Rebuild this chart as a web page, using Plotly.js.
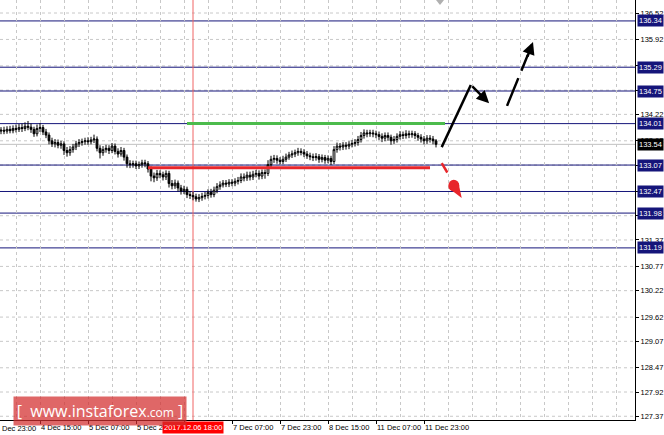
<!DOCTYPE html>
<html>
<head>
<meta charset="utf-8">
<script src="https://cdn.plot.ly/plotly-3.0.1.min.js"></script>
<style>html,body{margin:0;padding:0;background:#fff;}#chart{width:664px;height:435px;}</style>
</head>
<body>
<div id="chart"></div>
<script>
// ---- data (H1 bars, index = hours since 3 Dec 23:00, weekend removed) ----
var firstBar = 3;
var opens = [133.84,133.86,133.84,133.88,133.85,133.90,133.88,133.92,133.90,133.95,133.93,133.88,133.78,133.90,133.92,133.82,133.75,133.62,133.55,133.58,
133.52,133.55,133.40,133.35,133.42,133.48,133.55,133.58,133.60,133.62,133.60,133.64,133.66,133.45,133.35,133.42,133.45,133.40,133.50,133.38,
133.32,133.40,133.25,133.10,133.08,133.10,133.05,133.08,133.12,133.10,132.98,132.82,132.78,132.88,132.85,132.80,132.88,132.65,132.60,132.66,
132.55,132.48,132.52,132.40,132.38,132.35,132.30,132.33,132.36,132.38,132.45,132.40,132.50,132.58,132.62,132.66,132.64,132.68,132.66,132.70,
132.72,132.80,132.78,132.84,132.80,132.86,132.88,132.82,132.90,132.88,133.08,133.20,133.22,133.18,133.15,133.20,133.25,133.30,133.32,133.35,
133.38,133.36,133.32,133.28,133.26,133.24,133.26,133.20,133.24,133.18,133.22,133.15,133.42,133.50,133.48,133.52,133.50,133.54,133.56,133.58,
133.65,133.74,133.80,133.78,133.80,133.78,133.76,133.72,133.68,133.74,133.70,133.62,133.65,133.72,133.76,133.74,133.78,133.76,133.78,133.74,
133.70,133.66,133.62,133.68,133.66,133.62];
var highs = [133.93,133.94,133.95,133.96,133.97,133.99,134.00,134.01,134.04,134.07,
134.01,133.94,133.99,134.02,133.98,133.89,133.81,133.69,133.66,133.65,
133.62,133.61,133.48,133.50,133.55,133.62,133.66,133.67,133.69,133.70,
133.71,133.76,133.72,133.52,133.50,133.53,133.52,133.57,133.56,133.45,
133.48,133.46,133.31,133.18,133.17,133.17,133.15,133.19,133.19,133.16,
133.04,132.90,132.96,132.95,132.92,132.95,132.94,132.73,132.74,132.72,
132.62,132.60,132.58,132.48,132.46,132.42,132.41,132.44,132.46,132.52,
132.53,132.58,132.66,132.70,132.73,132.73,132.75,132.75,132.77,132.80,
132.88,132.88,132.92,132.92,132.94,132.96,132.95,132.97,132.97,133.18,
133.28,133.30,133.29,133.25,133.28,133.33,133.37,133.40,133.42,133.46,
133.45,133.43,133.39,133.35,133.33,133.34,133.32,133.31,133.30,133.29,
133.28,133.50,133.58,133.57,133.59,133.59,133.61,133.64,133.66,133.73,
133.82,133.88,133.87,133.87,133.87,133.85,133.83,133.79,133.81,133.81,
133.76,133.73,133.79,133.84,133.83,133.86,133.85,133.85,133.84,133.80,
133.77,133.73,133.75,133.75,133.73,133.66];
var lows = [133.77,133.77,133.78,133.79,133.79,133.81,133.82,133.82,133.84,133.86,
133.80,133.71,133.72,133.82,133.75,133.68,133.54,133.48,133.47,133.45,
133.44,133.30,133.26,133.28,133.35,133.41,133.48,133.51,133.53,133.53,
133.54,133.57,133.38,133.22,133.28,133.35,133.32,133.34,133.31,133.24,
133.26,133.17,133.01,133.00,133.01,132.98,132.98,133.01,133.02,132.90,
132.70,132.68,132.71,132.77,132.72,132.73,132.56,132.52,132.53,132.47,
132.40,132.41,132.32,132.30,132.27,132.24,132.23,132.26,132.29,132.31,
132.33,132.34,132.43,132.51,132.56,132.57,132.57,132.59,132.59,132.63,
132.66,132.70,132.71,132.72,132.73,132.79,132.74,132.75,132.76,132.82,
133.01,133.12,133.10,133.08,133.09,133.14,133.19,133.23,133.25,133.28,
133.29,133.25,133.21,133.18,133.16,133.17,133.12,133.13,133.10,133.11,
133.07,133.09,133.35,133.40,133.41,133.42,133.43,133.47,133.49,133.51,
133.58,133.67,133.70,133.71,133.70,133.68,133.64,133.59,133.61,133.62,
133.53,133.55,133.58,133.65,133.66,133.67,133.68,133.69,133.66,133.62,
133.58,133.54,133.55,133.58,133.54,133.47];
var closes = [133.86,133.84,133.88,133.85,133.90,133.88,133.92,133.90,133.95,133.93,133.88,133.78,133.90,133.92,133.82,133.75,133.62,133.55,133.58,133.52,
133.55,133.40,133.35,133.42,133.48,133.55,133.58,133.60,133.62,133.60,133.64,133.66,133.45,133.35,133.42,133.45,133.40,133.50,133.38,133.32,
133.40,133.25,133.10,133.08,133.10,133.05,133.08,133.12,133.10,132.98,132.82,132.78,132.88,132.85,132.80,132.88,132.65,132.60,132.66,132.55,
132.48,132.52,132.40,132.38,132.35,132.30,132.33,132.36,132.38,132.45,132.40,132.50,132.58,132.62,132.66,132.64,132.68,132.66,132.70,132.72,
132.80,132.78,132.84,132.80,132.86,132.88,132.82,132.90,132.88,133.08,133.20,133.22,133.18,133.15,133.20,133.25,133.30,133.32,133.35,133.38,
133.36,133.32,133.28,133.26,133.24,133.26,133.20,133.24,133.18,133.22,133.15,133.42,133.50,133.48,133.52,133.50,133.54,133.56,133.58,133.65,
133.74,133.80,133.78,133.80,133.78,133.76,133.72,133.68,133.74,133.70,133.62,133.65,133.72,133.76,133.74,133.78,133.76,133.78,133.74,133.70,
133.66,133.62,133.68,133.66,133.62,133.54];

var timeTickIdx = [16,32,48,64,80,96,112,128,144];
var timeTickText = ["4 Dec 15:00","5 Dec 07:00","5 Dec 23:00","6 Dec 15:00","7 Dec 07:00","7 Dec 23:00","8 Dec 15:00","11 Dec 07:00","11 Dec 23:00"];
var priceTicks = [127.37,127.92,128.47,129.07,129.62,130.22,130.77,131.37,131.92,132.47,133.07,133.62,134.22,134.77,135.32,135.92,136.52];
var levels = [136.34,135.29,134.75,134.01,133.07,132.47,131.98,131.19];
var lastPrice = 133.54;
var markerBar = 67, markerText = "2017.12.06 18:00";
var resistance = 134.01, support = 133.01;

// ---- build ----
var xs = opens.map(function(_, i){ return firstBar + i; });

var trace = {
  type: 'candlestick', x: xs, open: opens, high: highs, low: lows, close: closes,
  increasing: {line: {color: '#000', width: 1}, fillcolor: '#fff'},
  decreasing: {line: {color: '#000', width: 1}, fillcolor: '#000'},
  whiskerwidth: 0, hoverinfo: 'skip', showlegend: false
};

var navy = '#15157a';
var shapes = [];
// horizontal price grid (dashed)
priceTicks.forEach(function(v){
  shapes.push({type:'line', xref:'paper', x0:0, x1:1, yref:'y', y0:v, y1:v, line:{color:'#c8c8c8', width:1, dash:'3px,3px'}, layer:'below'});
});
levels.forEach(function(v){
  shapes.push({type:'line', xref:'paper', x0:0, x1:1, yref:'y', y0:v, y1:v, line:{color:navy, width:1}, layer:'below'});
});
shapes.push({type:'line', xref:'paper', x0:0, x1:1, yref:'y', y0:lastPrice, y1:lastPrice, line:{color:'#c0c0c0', width:1}, layer:'below'});
shapes.push({type:'line', xref:'x', x0:markerBar, x1:markerBar, yref:'paper', y0:0, y1:1, line:{color:'#f06464', width:1}, layer:'below'});
// green & red horizontal levels
shapes.push({type:'line', x0:65, x1:151, y0:resistance, y1:resistance, line:{color:'#4cbb4c', width:3}});
shapes.push({type:'line', x0:52, x1:146, y0:support, y1:support, line:{color:'#e8262b', width:3}});
// black solid up leg
shapes.push({type:'line', x0:149.9, y0:133.476, x1:159.6, y1:134.888, line:{color:'#000', width:2.5}});
// black dashed leg
shapes.push({type:'line', x0:171.67, y0:134.412, x1:178.6, y1:135.57, line:{color:'#000', width:2.5, dash:'30px,8px'}});
// red dash
shapes.push({type:'line', x0:149.9, y0:133.114, x1:151.77, y1:132.901, line:{color:'#e8262b', width:2.5}});
// red teardrop
shapes.push({type:'circle', x0:152.1, x1:155.77, y0:132.47, y1:132.735, fillcolor:'#e8262b', line:{width:0}});
shapes.push({type:'path', path:'M155.47,132.670 L156.57,132.320 L152.4,132.538 Z', fillcolor:'#e8262b', line:{width:0}});
// chart shift marker
shapes.push({type:'path', path:'M148,136.815 L150.67,136.815 L149.33,136.70 Z', fillcolor:'#b0b0b0', line:{width:0}});

var annotations = [];
levels.forEach(function(v){
  annotations.push({xref:'paper', x:1, xanchor:'left', xshift:2, yref:'y', y:v, yanchor:'middle',
    text:v.toFixed(2), showarrow:false, bgcolor:navy, borderpad:1,
    font:{family:'Liberation Sans, Arial', size:7.5, color:'#fff'}});
});
annotations.push({xref:'paper', x:1, xanchor:'left', xshift:2, yref:'y', y:lastPrice, yanchor:'middle',
  text:lastPrice.toFixed(2), showarrow:false, bgcolor:'#000', borderpad:1,
  font:{family:'Liberation Sans, Arial', size:7.5, color:'#fff'}});
annotations.push({xref:'x', x:markerBar, yref:'paper', y:0, yanchor:'top', yshift:-1,
  text:markerText, showarrow:false, bgcolor:'#ff0000', borderpad:1,
  font:{family:'Liberation Sans, Arial', size:7.5, color:'#fff'}});
annotations.push({xref:'paper', x:0, xanchor:'left', yref:'paper', y:0, yanchor:'top', yshift:-2,
  text:'Dec 23:00', showarrow:false, font:{family:'Liberation Sans, Arial', size:7.5, color:'#000'}});
// arrows
annotations.push({xref:'x', yref:'y', axref:'x', ayref:'y', x:165.7, y:134.474, ax:159.6, ay:134.888,
  showarrow:true, arrowhead:2, arrowsize:1, arrowwidth:2.5, arrowcolor:'#000', standoff:0, text:''});
annotations.push({xref:'x', yref:'y', axref:'x', ayref:'y', x:180.33, y:135.863, ax:178.3, ay:135.5,
  showarrow:true, arrowhead:2, arrowsize:1, arrowwidth:2.5, arrowcolor:'#000', standoff:0, text:''});
// logo
annotations.push({xref:'paper', yref:'paper', x:13/635, xanchor:'left', y:(420-411)/420, yanchor:'middle',
  width:170, height:26, bgcolor:'rgba(210,45,45,0.72)', showarrow:false, align:'center',
  text:'[ &nbsp;www.instaforex<span style="font-size:12px">.com</span> ]',
  font:{family:'Open Sans, DejaVu Sans, sans-serif', size:16, color:'#fff'}});

// tick labels hidden behind the level / marker boxes are left blank
var coveredTicks = [132.47,133.07,134.77,135.32];
var coveredTime = ["6 Dec 15:00"];
var layout = {
  width:664, height:435,
  margin:{l:0, r:29, t:0, b:15, pad:0},
  paper_bgcolor:'#fff', plot_bgcolor:'#fff',
  showlegend:false, boxgap:0.15,
  xaxis:{
    range:[2.667, 214.33], tickvals:timeTickIdx, tickangle:0,
    ticktext:timeTickText.map(function(t){return coveredTime.indexOf(t) >= 0 ? '' : t;}),
    ticks:'outside', ticklen:3, tickcolor:'#000', ticklabelposition:'outside right',
    tickfont:{family:'Liberation Sans, Arial', size:7.5, color:'#000'},
    showgrid:true, gridcolor:'#c8c8c8', griddash:'3px,3px', gridwidth:1,
    minor:{dtick:8, tick0:0, showgrid:true, gridcolor:'#c8c8c8', griddash:'3px,3px', ticklen:0},
    showline:true, linecolor:'#000', linewidth:1, zeroline:false,
    rangeslider:{visible:false}, fixedrange:true
  },
  yaxis:{
    side:'right', range:[127.285, 136.815], tickvals:priceTicks,
    ticktext:priceTicks.map(function(v){return coveredTicks.indexOf(v) >= 0 ? '' : v.toFixed(2);}),
    ticks:'outside', ticklen:3, tickcolor:'#000',
    tickfont:{family:'Liberation Sans, Arial', size:7.5, color:'#000'},
    showgrid:false,
    showline:true, linecolor:'#000', linewidth:1, zeroline:false, fixedrange:true
  },
  shapes:shapes, annotations:annotations, hovermode:false
};

Plotly.newPlot('chart', [trace], layout, {displayModeBar:false, staticPlot:true});
</script>
</body>
</html>
